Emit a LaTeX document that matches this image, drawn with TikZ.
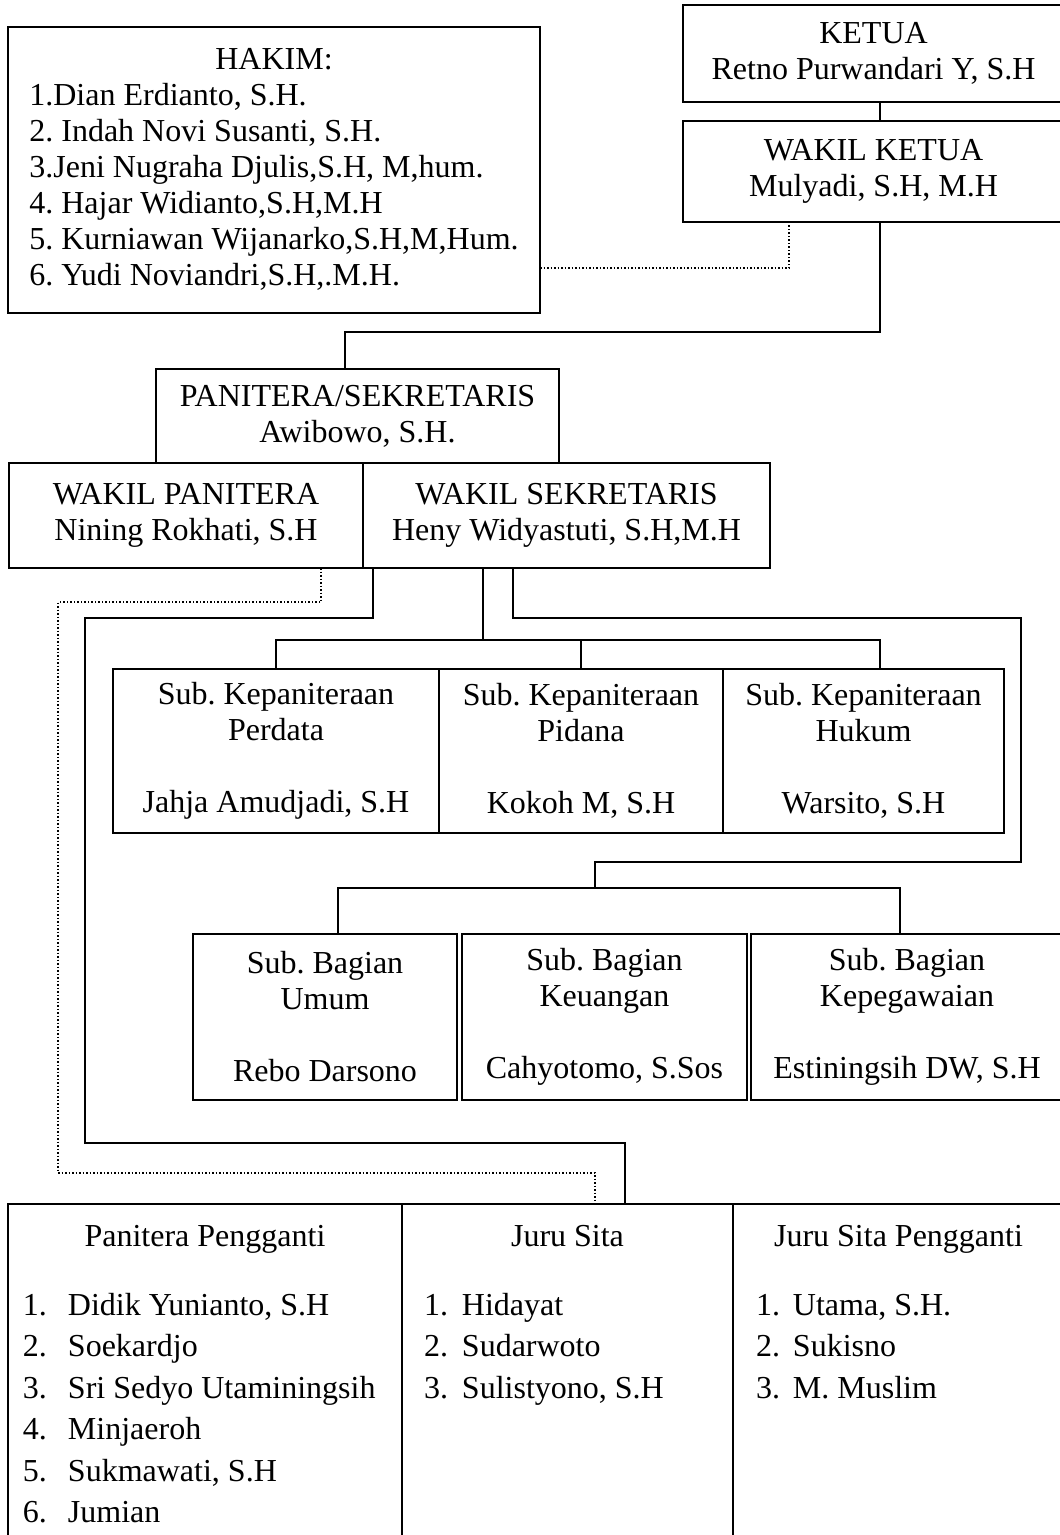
\documentclass[tikz,border=0pt]{standalone}
\usepackage{fontspec}
\setmainfont{Liberation Serif}
\frenchspacing
\begin{document}
\begin{tikzpicture}[x=1pt,y=-1pt,line width=2pt,
  every node/.style={font=\fontsize{32}{36}\selectfont},
  kotak/.style={draw,rectangle,inner sep=0pt,outer sep=0pt,align=center},
  titik/.style={dotted,line width=1.5pt},
  daftar/.style={anchor=base west,inner sep=0pt,font=\fontsize{32}{41.5}\selectfont}]
  \useasboundingbox (0,0) rectangle (1060,1535);
  \clip (0,0) rectangle (1060,1535);
  % pimpinan
  \node[kotak,minimum width=532pt,minimum height=286pt] (hakim) at (274,170) {\begin{tabular}{@{}l@{}}
    \multicolumn{1}{c}{HAKIM:}\\
    1.Dian Erdianto, S.H.\\
    2. Indah Novi Susanti, S.H.\\
    3.Jeni Nugraha Djulis,S.H, M,hum.\\
    4. Hajar Widianto,S.H,M.H\\
    5. Kurniawan Wijanarko,S.H,M,Hum.\\
    6. Yudi Noviandri,S.H,.M.H.
  \end{tabular}};
  \node[kotak,minimum width=381pt,minimum height=97pt] (ketua) at (873.5,53.5) {KETUA\\Retno Purwandari Y, S.H};
  \node[kotak,minimum width=381pt,minimum height=101pt] (wketua) at (873.5,171.5) {WAKIL KETUA\\Mulyadi, S.H, M.H};
  % kepaniteraan dan kesekretariatan
  \node[kotak,minimum width=403pt,minimum height=94pt] (panitera) at (357.5,416) {PANITERA/SEKRETARIS\\Awibowo, S.H.};
  \node[kotak,minimum width=354pt,minimum height=105pt] (wpanitera) at (186,515.5) {WAKIL PANITERA\\Nining Rokhati, S.H};
  \node[kotak,minimum width=407pt,minimum height=105pt] (wsekretaris) at (566.5,515.5) {WAKIL SEKRETARIS\\Heny Widyastuti, S.H,M.H};
  \node[kotak,minimum width=326pt,minimum height=164pt] (perdata) at (276,751) {Sub. Kepaniteraan\\Perdata\\~\\Jahja Amudjadi, S.H};
  \node[kotak,minimum width=284pt,minimum height=164pt] (pidana) at (581,751) {Sub. Kepaniteraan\\Pidana\\~\\Kokoh M, S.H};
  \node[kotak,minimum width=281pt,minimum height=164pt] (hukum) at (863.5,751) {Sub. Kepaniteraan\\Hukum\\~\\Warsito, S.H};
  \node[kotak,minimum width=264pt,minimum height=166pt] (umum) at (325,1017) {Sub. Bagian\\Umum\\~\\Rebo Darsono};
  \node[kotak,minimum width=285pt,minimum height=166pt] (keuangan) at (604.5,1017) {Sub. Bagian\\Keuangan\\~\\Cahyotomo, S.Sos};
  \node[kotak,minimum width=312pt,minimum height=166pt] (kepegawaian) at (907,1017) {Sub. Bagian\\Kepegawaian\\~\\Estiningsih DW, S.H};
  % tabel bawah
  \node[kotak,minimum width=394pt,minimum height=356pt] (pp) at (205,1382) {};
  \node[kotak,minimum width=331pt,minimum height=356pt] (js) at (567.5,1382) {};
  \node[kotak,minimum width=331pt,minimum height=356pt] (jsp) at (898.5,1382) {};
  \node[anchor=base] (ppjudul) at ([yshift=-42pt]pp.north) {Panitera Pengganti};
  \node[anchor=base] (jsjudul) at ([yshift=-42pt]js.north) {Juru Sita};
  \node[anchor=base] (jspjudul) at ([yshift=-42pt]jsp.north) {Juru Sita Pengganti};
  \node[daftar] (ppisi) at ([xshift=14pt,yshift=-111pt]pp.north west) {\begin{tabular}[t]{@{}p{45pt}@{}l@{}}
    1. & Didik Yunianto, S.H\\
    2. & Soekardjo\\
    3. & Sri Sedyo Utaminingsih\\
    4. & Minjaeroh\\
    5. & Sukmawati, S.H\\
    6. & Jumian
  \end{tabular}};
  \node[daftar] (jsisi) at ([xshift=21pt,yshift=-111pt]js.north west) {\begin{tabular}[t]{@{}p{38pt}@{}l@{}}
    1. & Hidayat\\
    2. & Sudarwoto\\
    3. & Sulistyono, S.H
  \end{tabular}};
  \node[daftar] (jspisi) at ([xshift=22pt,yshift=-111pt]jsp.north west) {\begin{tabular}[t]{@{}p{37pt}@{}l@{}}
    1. & Utama, S.H.\\
    2. & Sukisno\\
    3. & M. Muslim
  \end{tabular}};
  % titik belok garis
  \coordinate (a1) at (880,332);
  \coordinate (a2) at (345,332);
  \coordinate (h1) at (789,268);
  \coordinate (d1) at (321,602);
  \coordinate (d2) at (58,602);
  \coordinate (d3) at (595,1173);
  \coordinate (s1) at (373,618);
  \coordinate (s2) at (85,1143);
  \coordinate (s3) at (625,1143);
  \coordinate (k1) at (483,640);
  \coordinate (k2) at (880,640);
  \coordinate (g1) at (513,618);
  \coordinate (g2) at (1021,862);
  \coordinate (g3) at (595,888);
  \coordinate (u1) at (338,888);
  \coordinate (u2) at (900,888);
  % garis komando
  \draw (ketua.south -| a1) -- (wketua.north -| a1);
  \draw (wketua.south -| a1) -- (a1) -- (a2) -- (panitera.north -| a2);
  \draw (wsekretaris.south -| k1) -- (k1);
  \draw (perdata.north) |- (k2) -- (hukum.north -| k2);
  \draw (pidana.north) -- (pidana.north |- k2);
  \draw (wsekretaris.south -| g1) -- (g1) -| (g2) -| (g3);
  \draw (umum.north -| u1) -- (u1) -- (u2) -- (kepegawaian.north -| u2);
  \draw (wsekretaris.south -| s1) -- (s1) -| (s2) -- (s3) -- (js.north -| s3);
  % garis koordinasi
  \draw[titik] (hakim.east |- h1) -| (wketua.south -| h1);
  \draw[titik] (wpanitera.south -| d1) -- (d1) -- (d2) |- (d3) -- (js.north -| d3);
\end{tikzpicture}
\end{document}
